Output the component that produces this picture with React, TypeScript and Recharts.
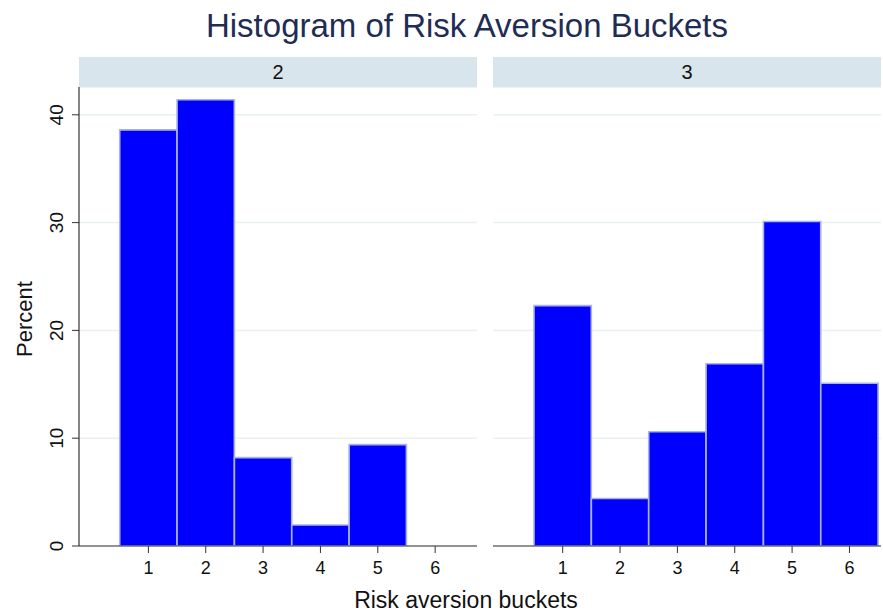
import React from "react"
import { BarChart, Bar, XAxis, YAxis, CartesianGrid } from "recharts"

// risk aversion buckets and percent of respondents in each, by group
const buckets = [1, 2, 3, 4, 5, 6]
const percentGroup2 = [38.6, 41.4, 8.2, 1.95, 9.4, 0]
const percentGroup3 = [22.3, 4.4, 10.6, 16.9, 30.1, 15.1]
const percentTicks = [0, 10, 20, 30, 40]
const groupLabels = ["2", "3"]

const FONT = "'Liberation Sans', Arial, Helvetica, sans-serif"
const BAR_FILL = "#0000ff"
const BAR_EDGE = "#aab3e6"
const GRID = "#e9f0f2"
const AXIS = "#333"
const STRIP = "#d9e5ec"

const PLOT_TOP = 87
const PLOT_HEIGHT = 459
const X_AXIS_HEIGHT = 41
const Y_MAX = 42.58

const RotatedTick = (props: any) => {
  const { x, y, payload } = props
  return (
    <text
      x={x}
      y={y}
      transform={`rotate(-90 ${x} ${y})`}
      textAnchor="middle"
      fontSize={19}
      fill="#111"
    >
      {payload.value}
    </text>
  )
}

interface PanelProps {
  values: number[]
  label: string
  left: number
  plotWidth: number
  xMin: number
  xMax: number
  withYAxis: boolean
}

function Panel({ values, label, left, plotWidth, xMin, xMax, withYAxis }: PanelProps) {
  const data = buckets.map((b, i) => ({ bucket: b, percent: values[i] }))
  const yAxisWidth = withYAxis ? 79 : 0
  const stripLeft = left + yAxisWidth
  // one bucket wide; a hair under the band so recharts does not shrink it
  const barSize = plotWidth / (xMax - xMin) - 0.05

  return (
    <>
      <div
        style={{
          position: "absolute",
          left: stripLeft,
          top: 57,
          width: plotWidth,
          height: 30,
          background: STRIP,
          textAlign: "center",
          fontSize: 20,
          lineHeight: "30px",
          color: "#111",
        }}
      >
        {label}
      </div>
      <div style={{ position: "absolute", left, top: PLOT_TOP }}>
        <BarChart
          width={yAxisWidth + plotWidth}
          height={PLOT_HEIGHT + X_AXIS_HEIGHT}
          data={data}
          margin={{ top: 0, right: 0, bottom: 0, left: 0 }}
          barCategoryGap={0}
          barGap={0}
        >
          <CartesianGrid vertical={false} stroke={GRID} strokeWidth={1.5} />
          <XAxis
            dataKey="bucket"
            type="number"
            domain={[xMin, xMax]}
            ticks={buckets}
            allowDataOverflow
            height={X_AXIS_HEIGHT}
            tickSize={7}
            tickMargin={8}
            tick={{ fontSize: 18, fill: "#111" }}
            axisLine={{ stroke: AXIS, strokeWidth: 1.2 }}
            tickLine={{ stroke: AXIS }}
          />
          <YAxis
            hide={!withYAxis}
            width={yAxisWidth}
            domain={[0, Y_MAX]}
            ticks={percentTicks}
            allowDataOverflow
            tickSize={7}
            tickMargin={9}
            tick={RotatedTick}
            axisLine={{ stroke: AXIS, strokeWidth: 1.2 }}
            tickLine={{ stroke: AXIS }}
          />
          <Bar
            dataKey="percent"
            fill={BAR_FILL}
            stroke={BAR_EDGE}
            strokeWidth={1.6}
            barSize={barSize}
            isAnimationActive={false}
          />
        </BarChart>
      </div>
    </>
  )
}

export default function App() {
  return (
    <div
      style={{
        position: "absolute",
        left: 0,
        top: 0,
        width: 883,
        height: 616,
        background: "#fff",
        fontFamily: FONT,
      }}
    >
      <svg
        width={883}
        height={616}
        style={{ position: "absolute", left: 0, top: 0, fontFamily: FONT }}
      >
        <text x={467} y={37} textAnchor="middle" fontSize={33} fill="#1f2d55">
          Histogram of Risk Aversion Buckets
        </text>
        <text
          x={32}
          y={319}
          transform="rotate(-90 32 319)"
          textAnchor="middle"
          fontSize={22}
          fill="#111"
        >
          Percent
        </text>
        <text x={466} y={608} textAnchor="middle" fontSize={23} fill="#111">
          Risk aversion buckets
        </text>
      </svg>
      <Panel
        values={percentGroup2}
        label={groupLabels[0]}
        left={0}
        plotWidth={398}
        xMin={-0.21}
        xMax={6.73}
        withYAxis
      />
      <Panel
        values={percentGroup3}
        label={groupLabels[1]}
        left={493}
        plotWidth={388}
        xMin={-0.215}
        xMax={6.55}
        withYAxis={false}
      />
    </div>
  )
}
